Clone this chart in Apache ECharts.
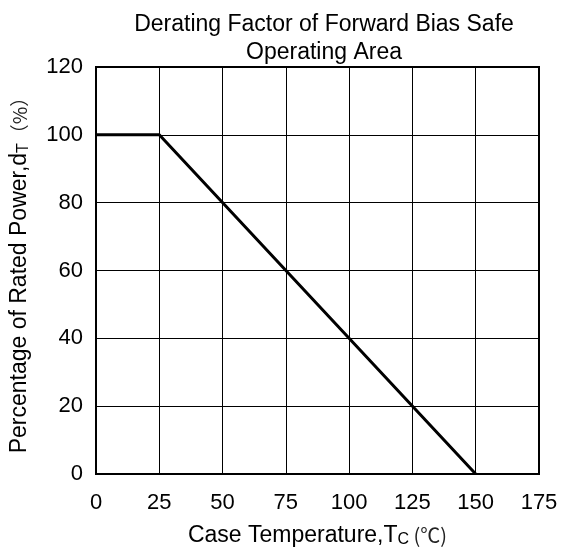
<!DOCTYPE html>
<html>
<head>
<meta charset="utf-8">
<script src="https://cdn.jsdelivr.net/npm/echarts@6/dist/echarts.min.js"></script>
<style>
html,body{margin:0;padding:0;background:#fff;}
#c{width:561px;height:550px;}
</style>
</head>
<body>
<div id="c"></div>
<script>
var temperature = [0, 25, 150];
var ratedPower = [100, 100, 0];
var xTicks = [0, 25, 50, 75, 100, 125, 150, 175];
var yTicks = [0, 20, 40, 60, 80, 100, 120];

var chart = echarts.init(document.getElementById('c'), null, {renderer: 'canvas'});
var font = 'Liberation Sans, Arial, sans-serif';
var cjk = 'Noto Sans CJK SC, serif';
var data = temperature.map(function (t, i) { return [t, ratedPower[i]]; });

chart.setOption({
  animation: false,
  backgroundColor: '#fff',
  title: {
    text: 'Derating Factor of Forward Bias Safe\nOperating Area',
    left: 319,
    textAlign: 'center',
    top: 6,
    textStyle: {fontFamily: font, fontSize: 23, fontWeight: 'normal', color: '#000', lineHeight: 28}
  },
  grid: {left: 96, right: 22, top: 67, bottom: 76, show: true, borderColor: '#000', borderWidth: 2, backgroundColor: 'transparent', outerBoundsMode: 'none', containLabel: false},
  xAxis: {
    type: 'value', min: xTicks[0], max: xTicks[xTicks.length - 1], interval: 25,
    axisLine: {show: true, lineStyle: {color: '#000', width: 2}},
    axisTick: {show: false},
    splitLine: {show: true, lineStyle: {color: '#000', width: 1}},
    axisLabel: {color: '#000', fontSize: 22, fontFamily: font, margin: 18},
    name: '{a|Case Temperature,T}{s|C}{p| (℃)}',
    nameLocation: 'middle', nameGap: 49,
    nameTextStyle: {
      rich: {
        a: {fontSize: 23, fontFamily: font, color: '#000'},
        s: {fontSize: 16, fontFamily: font, color: '#000', padding: [9, 0, 0, 0]},
        p: {fontSize: 20, fontFamily: cjk, color: '#222'}
      }
    }
  },
  yAxis: {
    type: 'value', min: yTicks[0], max: yTicks[yTicks.length - 1], interval: 20,
    axisLine: {show: true, lineStyle: {color: '#000', width: 2}},
    axisTick: {show: false},
    splitLine: {show: true, lineStyle: {color: '#000', width: 1}},
    axisLabel: {color: '#000', fontSize: 22, fontFamily: font, margin: 13},
    name: '{a|Percentage of Rated Power,d}{s|T}{p|（%）}',
    nameLocation: 'middle', nameGap: 64, nameRotate: 90,
    nameTextStyle: {
      rich: {
        a: {fontSize: 23, fontFamily: font, color: '#000'},
        s: {fontSize: 16, fontFamily: font, color: '#000', padding: [9, 0, 0, 0]},
        p: {fontSize: 19, fontFamily: cjk, color: '#222'}
      }
    }
  },
  series: [{
    type: 'line',
    data: data,
    symbol: 'none',
    lineStyle: {color: '#000', width: 3},
    z: 5
  }]
});
</script>
</body>
</html>
